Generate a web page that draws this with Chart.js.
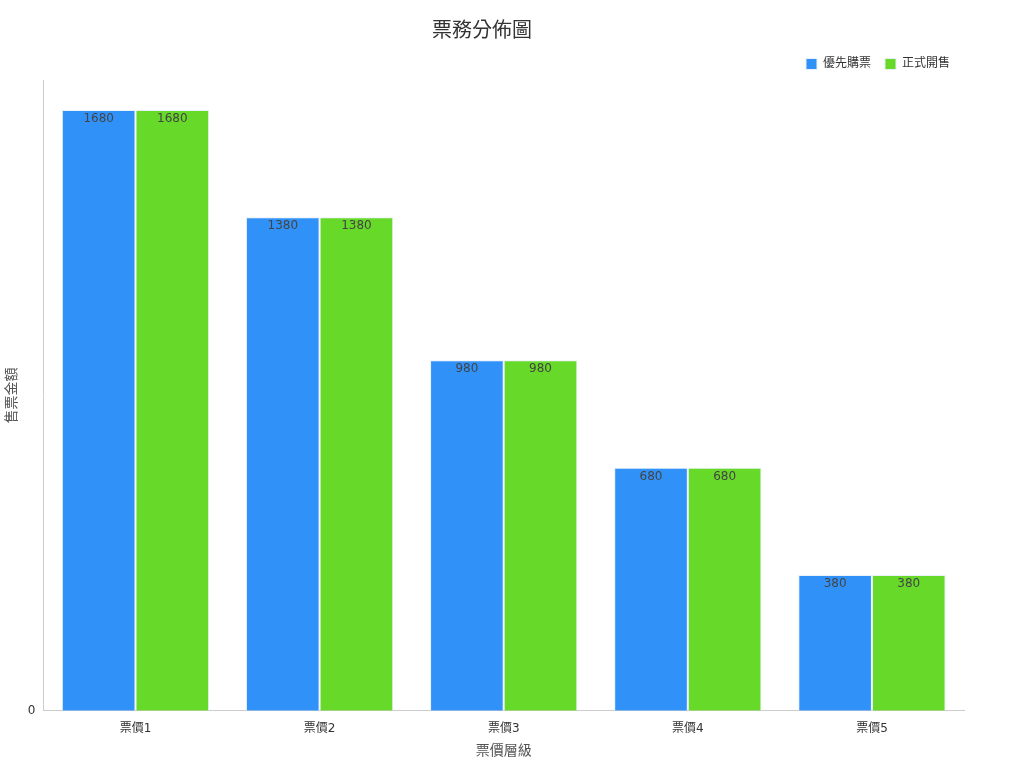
<!DOCTYPE html>
<html><head><meta charset="utf-8">
<script src="https://cdn.jsdelivr.net/npm/chart.js@4"></script>
<style>html,body{margin:0;background:#fff}#wrap{width:1024px;height:768px}</style>
</head><body><div id="wrap"><canvas id="c"></canvas></div>
<script>
// 票務分佈圖
const CATEGORIES = ["票價1", "票價2", "票價3", "票價4", "票價5"];
const PRESALE = [1680, 1380, 980, 680, 380];
const GENERAL = [1680, 1380, 980, 680, 380];
const FONT = "'DejaVu Sans', 'Noto Sans CJK TC', sans-serif";

Chart.defaults.font.family = FONT;
Chart.defaults.color = "#333";

// Valores dentro de la barra, arriba
const barLabels = {
  id: "barLabels",
  afterDatasetsDraw(chart) {
    const ctx = chart.ctx;
    ctx.save();
    ctx.font = "12px " + FONT;
    ctx.fillStyle = "#444";
    ctx.textAlign = "center";
    ctx.textBaseline = "top";
    chart.data.datasets.forEach((ds, i) => {
      chart.getDatasetMeta(i).data.forEach((bar, j) => {
        ctx.fillText(ds.data[j], bar.x, bar.y + 3);
      });
    });
    ctx.restore();
  },
};

new Chart(document.getElementById("c"), {
  type: "bar",
  data: {
    labels: CATEGORIES,
    datasets: [
      { label: "優先購票", data: PRESALE, backgroundColor: "#3092f9", borderColor: "#e8f0f8", borderWidth: 1 },
      { label: "正式開售", data: GENERAL, backgroundColor: "#66d929", borderColor: "#e8f0f8", borderWidth: 1 },
    ],
  },
  options: {
    responsive: true,
    maintainAspectRatio: false,
    animation: false,
    layout: { padding: { left: 0, right: 60, bottom: 4 } },
    datasets: { bar: { categoryPercentage: 0.8, barPercentage: 1 } },
    plugins: {
      title: { display: true, text: "票務分佈圖", font: { size: 20, weight: "normal" }, color: "#333", padding: { top: 20, bottom: 0 } },
      legend: {
        align: "end",
        labels: { boxWidth: 11, boxHeight: 11, padding: 14, font: { size: 12 } },
      },
      tooltip: { enabled: false },
    },
    scales: {
      x: {
        grid: { display: false, drawTicks: true },
        border: { color: "#ccc" },
        ticks: { font: { size: 12 } },
        title: { display: true, text: "票價層級", font: { size: 14 }, color: "#555" },
      },
      y: {
        min: 0, max: 1764,
        grid: { display: false, drawTicks: true, tickLength: 5, tickColor: "#333" },
        border: { color: "#ccc" },
        ticks: { stepSize: 200, autoSkip: false, font: { size: 12 }, callback: v => (Math.round(v) % 200 === 0 ? Math.round(v) : null) },
        title: { display: true, text: "售票金額", font: { size: 14 }, color: "#555" },
      },
    },
  },
  plugins: [barLabels],
});
</script></body></html>
